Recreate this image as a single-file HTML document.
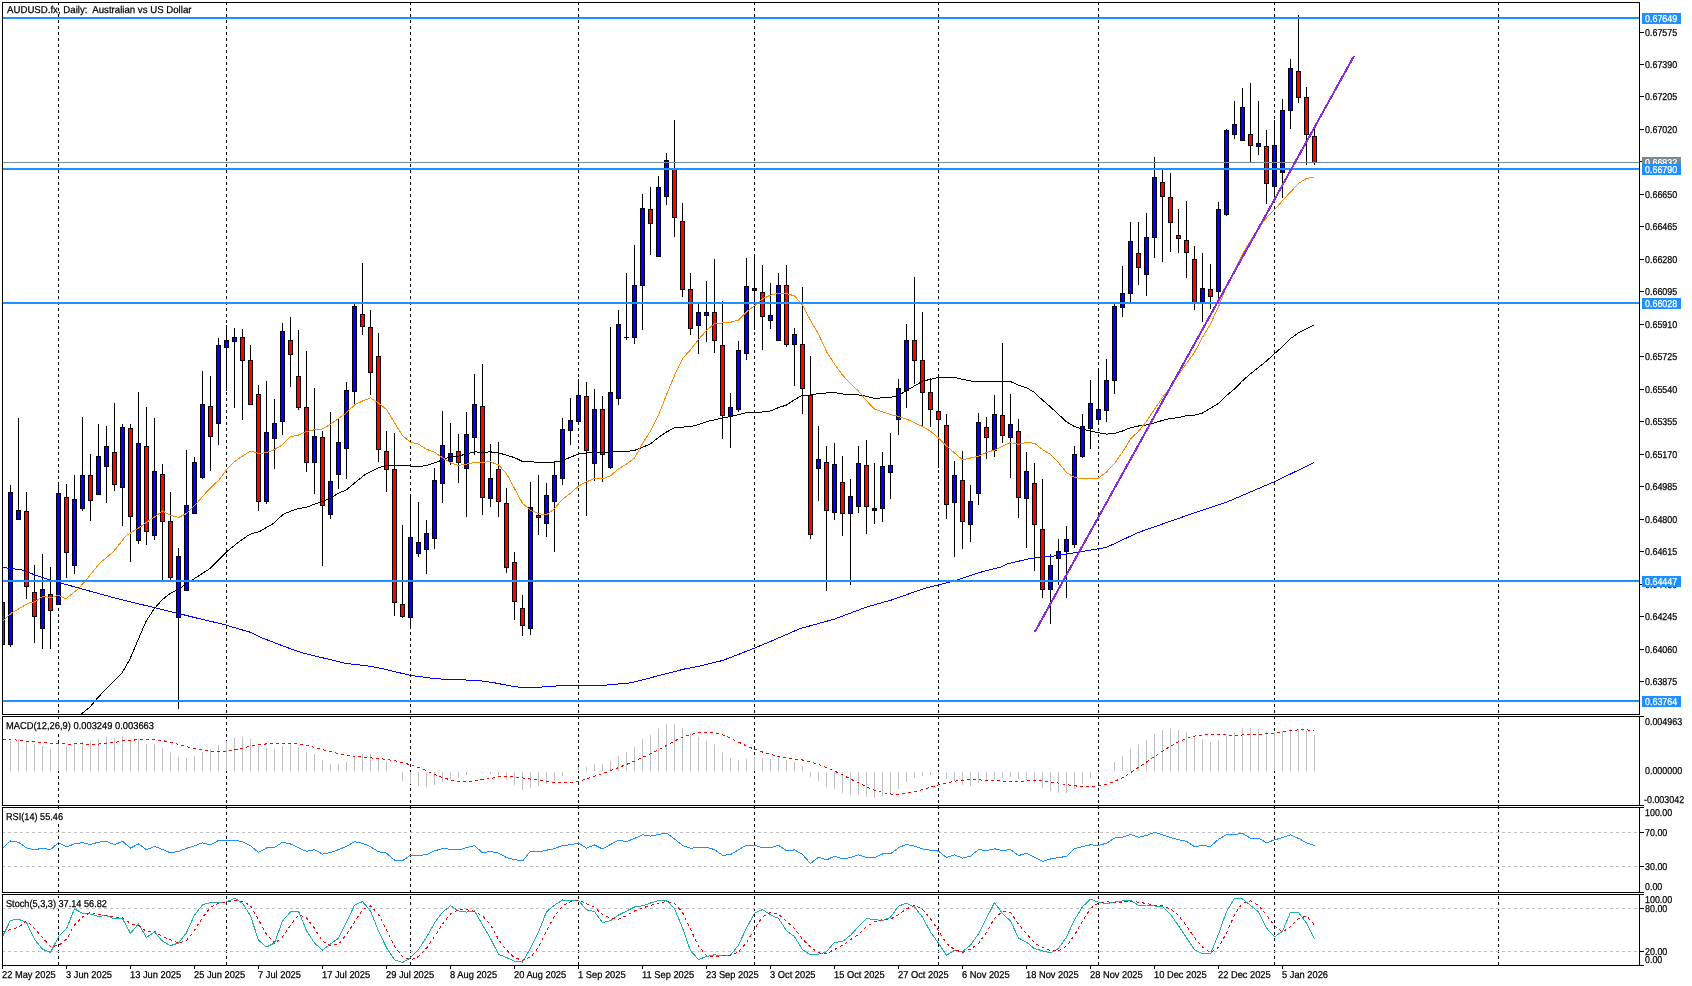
<!DOCTYPE html>
<html><head><meta charset="utf-8"><title>AUDUSD.fx Daily</title>
<style>html,body{margin:0;padding:0;background:#fff;width:1692px;height:986px;overflow:hidden}svg{display:block;will-change:transform}text{font-family:"Liberation Sans",sans-serif;white-space:pre;text-rendering:geometricPrecision}</style>
</head><body><svg width="1692" height="986" viewBox="0 0 1692 986" shape-rendering="crispEdges" font-family="Liberation Sans, sans-serif"><defs><clipPath id="c0"><rect x="3" y="3" width="1636" height="711"/></clipPath><clipPath id="c1"><rect x="3" y="717" width="1636" height="88"/></clipPath><clipPath id="c2"><rect x="3" y="808" width="1636" height="84"/></clipPath><clipPath id="c3"><rect x="3" y="895" width="1636" height="70"/></clipPath></defs><line x1="58.5" y1="2" x2="58.5" y2="966" stroke="#000" stroke-width="1" stroke-dasharray="3 3"/><line x1="226.5" y1="2" x2="226.5" y2="966" stroke="#000" stroke-width="1" stroke-dasharray="3 3"/><line x1="410.5" y1="2" x2="410.5" y2="966" stroke="#000" stroke-width="1" stroke-dasharray="3 3"/><line x1="578.5" y1="2" x2="578.5" y2="966" stroke="#000" stroke-width="1" stroke-dasharray="3 3"/><line x1="754.5" y1="2" x2="754.5" y2="966" stroke="#000" stroke-width="1" stroke-dasharray="3 3"/><line x1="938.5" y1="2" x2="938.5" y2="966" stroke="#000" stroke-width="1" stroke-dasharray="3 3"/><line x1="1098.5" y1="2" x2="1098.5" y2="966" stroke="#000" stroke-width="1" stroke-dasharray="3 3"/><line x1="1274.5" y1="2" x2="1274.5" y2="966" stroke="#000" stroke-width="1" stroke-dasharray="3 3"/><line x1="1498.5" y1="2" x2="1498.5" y2="966" stroke="#000" stroke-width="1" stroke-dasharray="3 3"/><rect x="3" y="720" width="153" height="11" fill="#fff"/><rect x="3" y="811" width="62" height="11" fill="#fff"/><rect x="3" y="898" width="106" height="11" fill="#fff"/><g clip-path="url(#c0)"><rect x="2" y="595" width="1" height="52" fill="#000"/><rect x="0" y="602" width="5" height="43" fill="#000"/><rect x="1" y="603" width="3" height="41" fill="#ff0000"/><rect x="10" y="485" width="1" height="162" fill="#000"/><rect x="8" y="492" width="5" height="153" fill="#000"/><rect x="9" y="493" width="3" height="151" fill="#0000ff"/><rect x="18" y="418" width="1" height="102" fill="#000"/><rect x="16" y="510" width="5" height="10" fill="#000"/><rect x="17" y="511" width="3" height="8" fill="#0000ff"/><rect x="26" y="492" width="1" height="107" fill="#000"/><rect x="24" y="511" width="5" height="76" fill="#000"/><rect x="25" y="512" width="3" height="74" fill="#ff0000"/><rect x="34" y="565" width="1" height="78" fill="#000"/><rect x="32" y="592" width="5" height="25" fill="#000"/><rect x="33" y="593" width="3" height="23" fill="#ff0000"/><rect x="42" y="554" width="1" height="95" fill="#000"/><rect x="40" y="589" width="5" height="40" fill="#000"/><rect x="41" y="590" width="3" height="38" fill="#0000ff"/><rect x="50" y="567" width="1" height="82" fill="#000"/><rect x="48" y="594" width="5" height="17" fill="#000"/><rect x="49" y="595" width="3" height="15" fill="#ff0000"/><rect x="58" y="482" width="1" height="123" fill="#000"/><rect x="56" y="493" width="5" height="112" fill="#000"/><rect x="57" y="494" width="3" height="110" fill="#0000ff"/><rect x="66" y="484" width="1" height="94" fill="#000"/><rect x="64" y="497" width="5" height="56" fill="#000"/><rect x="65" y="498" width="3" height="54" fill="#ff0000"/><rect x="74" y="475" width="1" height="99" fill="#000"/><rect x="72" y="499" width="5" height="67" fill="#000"/><rect x="73" y="500" width="3" height="65" fill="#0000ff"/><rect x="82" y="417" width="1" height="94" fill="#000"/><rect x="80" y="475" width="5" height="34" fill="#000"/><rect x="81" y="476" width="3" height="32" fill="#0000ff"/><rect x="90" y="454" width="1" height="67" fill="#000"/><rect x="88" y="475" width="5" height="26" fill="#000"/><rect x="89" y="476" width="3" height="24" fill="#ff0000"/><rect x="98" y="424" width="1" height="71" fill="#000"/><rect x="96" y="456" width="5" height="39" fill="#000"/><rect x="97" y="457" width="3" height="37" fill="#0000ff"/><rect x="106" y="426" width="1" height="77" fill="#000"/><rect x="104" y="446" width="5" height="21" fill="#000"/><rect x="105" y="447" width="3" height="19" fill="#0000ff"/><rect x="114" y="403" width="1" height="88" fill="#000"/><rect x="112" y="452" width="5" height="33" fill="#000"/><rect x="113" y="453" width="3" height="31" fill="#ff0000"/><rect x="122" y="424" width="1" height="102" fill="#000"/><rect x="120" y="427" width="5" height="61" fill="#000"/><rect x="121" y="428" width="3" height="59" fill="#0000ff"/><rect x="130" y="424" width="1" height="138" fill="#000"/><rect x="128" y="428" width="5" height="89" fill="#000"/><rect x="129" y="429" width="3" height="87" fill="#ff0000"/><rect x="138" y="392" width="1" height="152" fill="#000"/><rect x="136" y="443" width="5" height="98" fill="#000"/><rect x="137" y="444" width="3" height="96" fill="#0000ff"/><rect x="146" y="407" width="1" height="138" fill="#000"/><rect x="144" y="446" width="5" height="86" fill="#000"/><rect x="145" y="447" width="3" height="84" fill="#ff0000"/><rect x="154" y="418" width="1" height="122" fill="#000"/><rect x="152" y="471" width="5" height="65" fill="#000"/><rect x="153" y="472" width="3" height="63" fill="#0000ff"/><rect x="162" y="464" width="1" height="117" fill="#000"/><rect x="160" y="474" width="5" height="48" fill="#000"/><rect x="161" y="475" width="3" height="46" fill="#ff0000"/><rect x="170" y="492" width="1" height="89" fill="#000"/><rect x="168" y="521" width="5" height="57" fill="#000"/><rect x="169" y="522" width="3" height="55" fill="#ff0000"/><rect x="178" y="548" width="1" height="161" fill="#000"/><rect x="176" y="556" width="5" height="62" fill="#000"/><rect x="177" y="557" width="3" height="60" fill="#0000ff"/><rect x="186" y="450" width="1" height="141" fill="#000"/><rect x="184" y="505" width="5" height="86" fill="#000"/><rect x="185" y="506" width="3" height="84" fill="#0000ff"/><rect x="194" y="457" width="1" height="57" fill="#000"/><rect x="192" y="462" width="5" height="52" fill="#000"/><rect x="193" y="463" width="3" height="50" fill="#0000ff"/><rect x="202" y="371" width="1" height="108" fill="#000"/><rect x="200" y="404" width="5" height="74" fill="#000"/><rect x="201" y="405" width="3" height="72" fill="#0000ff"/><rect x="210" y="376" width="1" height="95" fill="#000"/><rect x="208" y="406" width="5" height="31" fill="#000"/><rect x="209" y="407" width="3" height="29" fill="#ff0000"/><rect x="218" y="338" width="1" height="107" fill="#000"/><rect x="216" y="345" width="5" height="79" fill="#000"/><rect x="217" y="346" width="3" height="77" fill="#0000ff"/><rect x="226" y="325" width="1" height="66" fill="#000"/><rect x="224" y="340" width="5" height="8" fill="#000"/><rect x="225" y="341" width="3" height="6" fill="#0000ff"/><rect x="234" y="328" width="1" height="80" fill="#000"/><rect x="232" y="337" width="5" height="5" fill="#000"/><rect x="233" y="338" width="3" height="3" fill="#0000ff"/><rect x="242" y="329" width="1" height="91" fill="#000"/><rect x="240" y="337" width="5" height="24" fill="#000"/><rect x="241" y="338" width="3" height="22" fill="#ff0000"/><rect x="250" y="345" width="1" height="60" fill="#000"/><rect x="248" y="360" width="5" height="45" fill="#000"/><rect x="249" y="361" width="3" height="43" fill="#ff0000"/><rect x="258" y="385" width="1" height="126" fill="#000"/><rect x="256" y="394" width="5" height="108" fill="#000"/><rect x="257" y="395" width="3" height="106" fill="#ff0000"/><rect x="266" y="381" width="1" height="123" fill="#000"/><rect x="264" y="432" width="5" height="70" fill="#000"/><rect x="265" y="433" width="3" height="68" fill="#0000ff"/><rect x="274" y="399" width="1" height="70" fill="#000"/><rect x="272" y="423" width="5" height="16" fill="#000"/><rect x="273" y="424" width="3" height="14" fill="#0000ff"/><rect x="282" y="323" width="1" height="112" fill="#000"/><rect x="280" y="331" width="5" height="91" fill="#000"/><rect x="281" y="332" width="3" height="89" fill="#0000ff"/><rect x="290" y="317" width="1" height="70" fill="#000"/><rect x="288" y="340" width="5" height="15" fill="#000"/><rect x="289" y="341" width="3" height="13" fill="#ff0000"/><rect x="298" y="330" width="1" height="80" fill="#000"/><rect x="296" y="376" width="5" height="32" fill="#000"/><rect x="297" y="377" width="3" height="30" fill="#ff0000"/><rect x="306" y="351" width="1" height="121" fill="#000"/><rect x="304" y="407" width="5" height="56" fill="#000"/><rect x="305" y="408" width="3" height="54" fill="#ff0000"/><rect x="314" y="388" width="1" height="106" fill="#000"/><rect x="312" y="436" width="5" height="27" fill="#000"/><rect x="313" y="437" width="3" height="25" fill="#0000ff"/><rect x="322" y="431" width="1" height="135" fill="#000"/><rect x="320" y="437" width="5" height="69" fill="#000"/><rect x="321" y="438" width="3" height="67" fill="#ff0000"/><rect x="330" y="412" width="1" height="107" fill="#000"/><rect x="328" y="481" width="5" height="34" fill="#000"/><rect x="329" y="482" width="3" height="32" fill="#0000ff"/><rect x="338" y="419" width="1" height="70" fill="#000"/><rect x="336" y="442" width="5" height="33" fill="#000"/><rect x="337" y="443" width="3" height="31" fill="#0000ff"/><rect x="346" y="382" width="1" height="97" fill="#000"/><rect x="344" y="390" width="5" height="59" fill="#000"/><rect x="345" y="391" width="3" height="57" fill="#0000ff"/><rect x="354" y="304" width="1" height="101" fill="#000"/><rect x="352" y="306" width="5" height="86" fill="#000"/><rect x="353" y="307" width="3" height="84" fill="#0000ff"/><rect x="362" y="263" width="1" height="72" fill="#000"/><rect x="360" y="314" width="5" height="13" fill="#000"/><rect x="361" y="315" width="3" height="11" fill="#ff0000"/><rect x="370" y="310" width="1" height="85" fill="#000"/><rect x="368" y="327" width="5" height="46" fill="#000"/><rect x="369" y="328" width="3" height="44" fill="#ff0000"/><rect x="378" y="333" width="1" height="129" fill="#000"/><rect x="376" y="356" width="5" height="94" fill="#000"/><rect x="377" y="357" width="3" height="92" fill="#ff0000"/><rect x="386" y="431" width="1" height="61" fill="#000"/><rect x="384" y="451" width="5" height="19" fill="#000"/><rect x="385" y="452" width="3" height="17" fill="#ff0000"/><rect x="394" y="433" width="1" height="183" fill="#000"/><rect x="392" y="469" width="5" height="134" fill="#000"/><rect x="393" y="470" width="3" height="132" fill="#ff0000"/><rect x="402" y="525" width="1" height="93" fill="#000"/><rect x="400" y="604" width="5" height="13" fill="#000"/><rect x="401" y="605" width="3" height="11" fill="#ff0000"/><rect x="410" y="494" width="1" height="135" fill="#000"/><rect x="408" y="537" width="5" height="81" fill="#000"/><rect x="409" y="538" width="3" height="79" fill="#0000ff"/><rect x="418" y="502" width="1" height="55" fill="#000"/><rect x="416" y="542" width="5" height="12" fill="#000"/><rect x="417" y="543" width="3" height="10" fill="#0000ff"/><rect x="426" y="520" width="1" height="54" fill="#000"/><rect x="424" y="533" width="5" height="17" fill="#000"/><rect x="425" y="534" width="3" height="15" fill="#0000ff"/><rect x="434" y="468" width="1" height="81" fill="#000"/><rect x="432" y="480" width="5" height="59" fill="#000"/><rect x="433" y="481" width="3" height="57" fill="#0000ff"/><rect x="442" y="411" width="1" height="92" fill="#000"/><rect x="440" y="445" width="5" height="39" fill="#000"/><rect x="441" y="446" width="3" height="37" fill="#0000ff"/><rect x="450" y="423" width="1" height="42" fill="#000"/><rect x="448" y="453" width="5" height="9" fill="#000"/><rect x="449" y="454" width="3" height="7" fill="#0000ff"/><rect x="458" y="434" width="1" height="49" fill="#000"/><rect x="456" y="451" width="5" height="12" fill="#000"/><rect x="457" y="452" width="3" height="10" fill="#ff0000"/><rect x="466" y="412" width="1" height="105" fill="#000"/><rect x="464" y="434" width="5" height="35" fill="#000"/><rect x="465" y="435" width="3" height="33" fill="#0000ff"/><rect x="474" y="374" width="1" height="81" fill="#000"/><rect x="472" y="404" width="5" height="34" fill="#000"/><rect x="473" y="405" width="3" height="32" fill="#0000ff"/><rect x="482" y="364" width="1" height="151" fill="#000"/><rect x="480" y="406" width="5" height="92" fill="#000"/><rect x="481" y="407" width="3" height="90" fill="#ff0000"/><rect x="490" y="444" width="1" height="63" fill="#000"/><rect x="488" y="478" width="5" height="21" fill="#000"/><rect x="489" y="479" width="3" height="19" fill="#0000ff"/><rect x="498" y="442" width="1" height="75" fill="#000"/><rect x="496" y="469" width="5" height="33" fill="#000"/><rect x="497" y="470" width="3" height="31" fill="#ff0000"/><rect x="506" y="488" width="1" height="85" fill="#000"/><rect x="504" y="503" width="5" height="65" fill="#000"/><rect x="505" y="504" width="3" height="63" fill="#ff0000"/><rect x="514" y="552" width="1" height="68" fill="#000"/><rect x="512" y="562" width="5" height="40" fill="#000"/><rect x="513" y="563" width="3" height="38" fill="#ff0000"/><rect x="522" y="595" width="1" height="41" fill="#000"/><rect x="520" y="608" width="5" height="18" fill="#000"/><rect x="521" y="609" width="3" height="16" fill="#ff0000"/><rect x="530" y="482" width="1" height="153" fill="#000"/><rect x="528" y="507" width="5" height="122" fill="#000"/><rect x="529" y="508" width="3" height="120" fill="#0000ff"/><rect x="538" y="475" width="1" height="60" fill="#000"/><rect x="536" y="515" width="5" height="3" fill="#000"/><rect x="537" y="516" width="3" height="1" fill="#ff0000"/><rect x="546" y="483" width="1" height="54" fill="#000"/><rect x="544" y="495" width="5" height="29" fill="#000"/><rect x="545" y="496" width="3" height="27" fill="#0000ff"/><rect x="554" y="461" width="1" height="91" fill="#000"/><rect x="552" y="475" width="5" height="27" fill="#000"/><rect x="553" y="476" width="3" height="25" fill="#0000ff"/><rect x="562" y="418" width="1" height="67" fill="#000"/><rect x="560" y="429" width="5" height="50" fill="#000"/><rect x="561" y="430" width="3" height="48" fill="#0000ff"/><rect x="570" y="398" width="1" height="47" fill="#000"/><rect x="568" y="420" width="5" height="11" fill="#000"/><rect x="569" y="421" width="3" height="9" fill="#0000ff"/><rect x="578" y="379" width="1" height="46" fill="#000"/><rect x="576" y="395" width="5" height="27" fill="#000"/><rect x="577" y="396" width="3" height="25" fill="#0000ff"/><rect x="586" y="382" width="1" height="134" fill="#000"/><rect x="584" y="396" width="5" height="55" fill="#000"/><rect x="585" y="397" width="3" height="53" fill="#ff0000"/><rect x="594" y="389" width="1" height="92" fill="#000"/><rect x="592" y="409" width="5" height="55" fill="#000"/><rect x="593" y="410" width="3" height="53" fill="#0000ff"/><rect x="602" y="396" width="1" height="86" fill="#000"/><rect x="600" y="409" width="5" height="46" fill="#000"/><rect x="601" y="410" width="3" height="44" fill="#ff0000"/><rect x="610" y="327" width="1" height="142" fill="#000"/><rect x="608" y="392" width="5" height="76" fill="#000"/><rect x="609" y="393" width="3" height="74" fill="#0000ff"/><rect x="618" y="310" width="1" height="95" fill="#000"/><rect x="616" y="324" width="5" height="75" fill="#000"/><rect x="617" y="325" width="3" height="73" fill="#0000ff"/><rect x="626" y="273" width="1" height="67" fill="#000"/><rect x="624" y="337" width="5" height="1" fill="#000"/><rect x="624" y="337" width="5" height="1" fill="#000"/><rect x="634" y="245" width="1" height="99" fill="#000"/><rect x="632" y="285" width="5" height="53" fill="#000"/><rect x="633" y="286" width="3" height="51" fill="#0000ff"/><rect x="642" y="194" width="1" height="136" fill="#000"/><rect x="640" y="208" width="5" height="78" fill="#000"/><rect x="641" y="209" width="3" height="76" fill="#0000ff"/><rect x="650" y="187" width="1" height="68" fill="#000"/><rect x="648" y="209" width="5" height="15" fill="#000"/><rect x="649" y="210" width="3" height="13" fill="#ff0000"/><rect x="658" y="176" width="1" height="81" fill="#000"/><rect x="656" y="187" width="5" height="70" fill="#000"/><rect x="657" y="188" width="3" height="68" fill="#0000ff"/><rect x="666" y="153" width="1" height="52" fill="#000"/><rect x="664" y="160" width="5" height="37" fill="#000"/><rect x="665" y="161" width="3" height="35" fill="#0000ff"/><rect x="674" y="120" width="1" height="117" fill="#000"/><rect x="672" y="168" width="5" height="50" fill="#000"/><rect x="673" y="169" width="3" height="48" fill="#ff0000"/><rect x="682" y="203" width="1" height="94" fill="#000"/><rect x="680" y="221" width="5" height="69" fill="#000"/><rect x="681" y="222" width="3" height="67" fill="#ff0000"/><rect x="690" y="273" width="1" height="62" fill="#000"/><rect x="688" y="289" width="5" height="40" fill="#000"/><rect x="689" y="290" width="3" height="38" fill="#ff0000"/><rect x="698" y="304" width="1" height="50" fill="#000"/><rect x="696" y="312" width="5" height="14" fill="#000"/><rect x="697" y="313" width="3" height="12" fill="#0000ff"/><rect x="706" y="281" width="1" height="61" fill="#000"/><rect x="704" y="312" width="5" height="4" fill="#000"/><rect x="705" y="313" width="3" height="2" fill="#0000ff"/><rect x="714" y="259" width="1" height="94" fill="#000"/><rect x="712" y="312" width="5" height="29" fill="#000"/><rect x="713" y="313" width="3" height="27" fill="#ff0000"/><rect x="722" y="301" width="1" height="138" fill="#000"/><rect x="720" y="345" width="5" height="71" fill="#000"/><rect x="721" y="346" width="3" height="69" fill="#ff0000"/><rect x="730" y="393" width="1" height="55" fill="#000"/><rect x="728" y="407" width="5" height="10" fill="#000"/><rect x="729" y="408" width="3" height="8" fill="#0000ff"/><rect x="738" y="341" width="1" height="71" fill="#000"/><rect x="736" y="350" width="5" height="60" fill="#000"/><rect x="737" y="351" width="3" height="58" fill="#0000ff"/><rect x="746" y="258" width="1" height="102" fill="#000"/><rect x="744" y="286" width="5" height="68" fill="#000"/><rect x="745" y="287" width="3" height="66" fill="#0000ff"/><rect x="754" y="254" width="1" height="76" fill="#000"/><rect x="752" y="288" width="5" height="3" fill="#000"/><rect x="753" y="289" width="3" height="1" fill="#0000ff"/><rect x="762" y="265" width="1" height="85" fill="#000"/><rect x="760" y="292" width="5" height="25" fill="#000"/><rect x="761" y="293" width="3" height="23" fill="#ff0000"/><rect x="770" y="283" width="1" height="46" fill="#000"/><rect x="768" y="315" width="5" height="6" fill="#000"/><rect x="769" y="316" width="3" height="4" fill="#0000ff"/><rect x="778" y="273" width="1" height="68" fill="#000"/><rect x="776" y="285" width="5" height="56" fill="#000"/><rect x="777" y="286" width="3" height="54" fill="#0000ff"/><rect x="786" y="265" width="1" height="82" fill="#000"/><rect x="784" y="285" width="5" height="60" fill="#000"/><rect x="785" y="286" width="3" height="58" fill="#ff0000"/><rect x="794" y="328" width="1" height="58" fill="#000"/><rect x="792" y="334" width="5" height="11" fill="#000"/><rect x="793" y="335" width="3" height="9" fill="#0000ff"/><rect x="802" y="287" width="1" height="127" fill="#000"/><rect x="800" y="344" width="5" height="45" fill="#000"/><rect x="801" y="345" width="3" height="43" fill="#ff0000"/><rect x="810" y="356" width="1" height="183" fill="#000"/><rect x="808" y="395" width="5" height="140" fill="#000"/><rect x="809" y="396" width="3" height="138" fill="#ff0000"/><rect x="818" y="426" width="1" height="75" fill="#000"/><rect x="816" y="459" width="5" height="10" fill="#000"/><rect x="817" y="460" width="3" height="8" fill="#0000ff"/><rect x="826" y="446" width="1" height="145" fill="#000"/><rect x="824" y="462" width="5" height="49" fill="#000"/><rect x="825" y="463" width="3" height="47" fill="#ff0000"/><rect x="834" y="443" width="1" height="77" fill="#000"/><rect x="832" y="464" width="5" height="49" fill="#000"/><rect x="833" y="465" width="3" height="47" fill="#0000ff"/><rect x="842" y="456" width="1" height="80" fill="#000"/><rect x="840" y="482" width="5" height="32" fill="#000"/><rect x="841" y="483" width="3" height="30" fill="#ff0000"/><rect x="850" y="479" width="1" height="106" fill="#000"/><rect x="848" y="496" width="5" height="18" fill="#000"/><rect x="849" y="497" width="3" height="16" fill="#0000ff"/><rect x="858" y="446" width="1" height="67" fill="#000"/><rect x="856" y="463" width="5" height="44" fill="#000"/><rect x="857" y="464" width="3" height="42" fill="#0000ff"/><rect x="866" y="440" width="1" height="94" fill="#000"/><rect x="864" y="465" width="5" height="42" fill="#000"/><rect x="865" y="466" width="3" height="40" fill="#ff0000"/><rect x="874" y="463" width="1" height="61" fill="#000"/><rect x="872" y="508" width="5" height="3" fill="#000"/><rect x="873" y="509" width="3" height="1" fill="#0000ff"/><rect x="882" y="452" width="1" height="70" fill="#000"/><rect x="880" y="466" width="5" height="43" fill="#000"/><rect x="881" y="467" width="3" height="41" fill="#0000ff"/><rect x="890" y="433" width="1" height="66" fill="#000"/><rect x="888" y="465" width="5" height="8" fill="#000"/><rect x="889" y="466" width="3" height="6" fill="#0000ff"/><rect x="898" y="379" width="1" height="56" fill="#000"/><rect x="896" y="388" width="5" height="32" fill="#000"/><rect x="897" y="389" width="3" height="30" fill="#0000ff"/><rect x="906" y="324" width="1" height="84" fill="#000"/><rect x="904" y="340" width="5" height="51" fill="#000"/><rect x="905" y="341" width="3" height="49" fill="#0000ff"/><rect x="914" y="277" width="1" height="107" fill="#000"/><rect x="912" y="340" width="5" height="21" fill="#000"/><rect x="913" y="341" width="3" height="19" fill="#ff0000"/><rect x="922" y="312" width="1" height="114" fill="#000"/><rect x="920" y="360" width="5" height="33" fill="#000"/><rect x="921" y="361" width="3" height="31" fill="#ff0000"/><rect x="930" y="378" width="1" height="49" fill="#000"/><rect x="928" y="392" width="5" height="18" fill="#000"/><rect x="929" y="393" width="3" height="16" fill="#ff0000"/><rect x="938" y="376" width="1" height="92" fill="#000"/><rect x="936" y="411" width="5" height="9" fill="#000"/><rect x="937" y="412" width="3" height="7" fill="#ff0000"/><rect x="946" y="414" width="1" height="105" fill="#000"/><rect x="944" y="425" width="5" height="80" fill="#000"/><rect x="945" y="426" width="3" height="78" fill="#ff0000"/><rect x="954" y="461" width="1" height="96" fill="#000"/><rect x="952" y="475" width="5" height="28" fill="#000"/><rect x="953" y="476" width="3" height="26" fill="#0000ff"/><rect x="962" y="451" width="1" height="98" fill="#000"/><rect x="960" y="480" width="5" height="42" fill="#000"/><rect x="961" y="481" width="3" height="40" fill="#ff0000"/><rect x="970" y="485" width="1" height="57" fill="#000"/><rect x="968" y="501" width="5" height="24" fill="#000"/><rect x="969" y="502" width="3" height="22" fill="#0000ff"/><rect x="978" y="413" width="1" height="92" fill="#000"/><rect x="976" y="422" width="5" height="72" fill="#000"/><rect x="977" y="423" width="3" height="70" fill="#0000ff"/><rect x="986" y="417" width="1" height="42" fill="#000"/><rect x="984" y="427" width="5" height="11" fill="#000"/><rect x="985" y="428" width="3" height="9" fill="#ff0000"/><rect x="994" y="395" width="1" height="62" fill="#000"/><rect x="992" y="414" width="5" height="37" fill="#000"/><rect x="993" y="415" width="3" height="35" fill="#0000ff"/><rect x="1002" y="343" width="1" height="100" fill="#000"/><rect x="1000" y="415" width="5" height="21" fill="#000"/><rect x="1001" y="416" width="3" height="19" fill="#ff0000"/><rect x="1010" y="394" width="1" height="84" fill="#000"/><rect x="1008" y="424" width="5" height="14" fill="#000"/><rect x="1009" y="425" width="3" height="12" fill="#0000ff"/><rect x="1018" y="419" width="1" height="99" fill="#000"/><rect x="1016" y="431" width="5" height="67" fill="#000"/><rect x="1017" y="432" width="3" height="65" fill="#ff0000"/><rect x="1026" y="452" width="1" height="96" fill="#000"/><rect x="1024" y="471" width="5" height="28" fill="#000"/><rect x="1025" y="472" width="3" height="26" fill="#0000ff"/><rect x="1034" y="463" width="1" height="108" fill="#000"/><rect x="1032" y="483" width="5" height="42" fill="#000"/><rect x="1033" y="484" width="3" height="40" fill="#ff0000"/><rect x="1042" y="479" width="1" height="119" fill="#000"/><rect x="1040" y="529" width="5" height="61" fill="#000"/><rect x="1041" y="530" width="3" height="59" fill="#ff0000"/><rect x="1050" y="554" width="1" height="70" fill="#000"/><rect x="1048" y="565" width="5" height="25" fill="#000"/><rect x="1049" y="566" width="3" height="23" fill="#0000ff"/><rect x="1058" y="539" width="1" height="46" fill="#000"/><rect x="1056" y="551" width="5" height="8" fill="#000"/><rect x="1057" y="552" width="3" height="6" fill="#0000ff"/><rect x="1066" y="526" width="1" height="72" fill="#000"/><rect x="1064" y="539" width="5" height="13" fill="#000"/><rect x="1065" y="540" width="3" height="11" fill="#0000ff"/><rect x="1074" y="446" width="1" height="102" fill="#000"/><rect x="1072" y="454" width="5" height="91" fill="#000"/><rect x="1073" y="455" width="3" height="89" fill="#0000ff"/><rect x="1082" y="414" width="1" height="44" fill="#000"/><rect x="1080" y="426" width="5" height="31" fill="#000"/><rect x="1081" y="427" width="3" height="29" fill="#0000ff"/><rect x="1090" y="380" width="1" height="69" fill="#000"/><rect x="1088" y="403" width="5" height="26" fill="#000"/><rect x="1089" y="404" width="3" height="24" fill="#0000ff"/><rect x="1098" y="368" width="1" height="57" fill="#000"/><rect x="1096" y="409" width="5" height="11" fill="#000"/><rect x="1097" y="410" width="3" height="9" fill="#0000ff"/><rect x="1106" y="359" width="1" height="63" fill="#000"/><rect x="1104" y="380" width="5" height="31" fill="#000"/><rect x="1105" y="381" width="3" height="29" fill="#0000ff"/><rect x="1114" y="304" width="1" height="90" fill="#000"/><rect x="1112" y="306" width="5" height="75" fill="#000"/><rect x="1113" y="307" width="3" height="73" fill="#0000ff"/><rect x="1122" y="266" width="1" height="51" fill="#000"/><rect x="1120" y="293" width="5" height="15" fill="#000"/><rect x="1121" y="294" width="3" height="13" fill="#0000ff"/><rect x="1130" y="222" width="1" height="80" fill="#000"/><rect x="1128" y="241" width="5" height="53" fill="#000"/><rect x="1129" y="242" width="3" height="51" fill="#0000ff"/><rect x="1138" y="222" width="1" height="63" fill="#000"/><rect x="1136" y="253" width="5" height="15" fill="#000"/><rect x="1137" y="254" width="3" height="13" fill="#ff0000"/><rect x="1146" y="213" width="1" height="83" fill="#000"/><rect x="1144" y="237" width="5" height="38" fill="#000"/><rect x="1145" y="238" width="3" height="36" fill="#0000ff"/><rect x="1154" y="157" width="1" height="101" fill="#000"/><rect x="1152" y="177" width="5" height="61" fill="#000"/><rect x="1153" y="178" width="3" height="59" fill="#0000ff"/><rect x="1162" y="170" width="1" height="92" fill="#000"/><rect x="1160" y="182" width="5" height="15" fill="#000"/><rect x="1161" y="183" width="3" height="13" fill="#ff0000"/><rect x="1170" y="173" width="1" height="79" fill="#000"/><rect x="1168" y="197" width="5" height="26" fill="#000"/><rect x="1169" y="198" width="3" height="24" fill="#ff0000"/><rect x="1178" y="209" width="1" height="44" fill="#000"/><rect x="1176" y="235" width="5" height="4" fill="#000"/><rect x="1177" y="236" width="3" height="2" fill="#ff0000"/><rect x="1186" y="201" width="1" height="77" fill="#000"/><rect x="1184" y="240" width="5" height="13" fill="#000"/><rect x="1185" y="241" width="3" height="11" fill="#ff0000"/><rect x="1194" y="246" width="1" height="64" fill="#000"/><rect x="1192" y="259" width="5" height="44" fill="#000"/><rect x="1193" y="260" width="3" height="42" fill="#ff0000"/><rect x="1202" y="253" width="1" height="69" fill="#000"/><rect x="1200" y="288" width="5" height="15" fill="#000"/><rect x="1201" y="289" width="3" height="13" fill="#0000ff"/><rect x="1210" y="264" width="1" height="45" fill="#000"/><rect x="1208" y="289" width="5" height="8" fill="#000"/><rect x="1209" y="290" width="3" height="6" fill="#ff0000"/><rect x="1218" y="202" width="1" height="97" fill="#000"/><rect x="1216" y="209" width="5" height="83" fill="#000"/><rect x="1217" y="210" width="3" height="81" fill="#0000ff"/><rect x="1226" y="129" width="1" height="87" fill="#000"/><rect x="1224" y="130" width="5" height="85" fill="#000"/><rect x="1225" y="131" width="3" height="83" fill="#0000ff"/><rect x="1234" y="101" width="1" height="38" fill="#000"/><rect x="1232" y="124" width="5" height="11" fill="#000"/><rect x="1233" y="125" width="3" height="9" fill="#0000ff"/><rect x="1242" y="88" width="1" height="53" fill="#000"/><rect x="1240" y="107" width="5" height="34" fill="#000"/><rect x="1241" y="108" width="3" height="32" fill="#0000ff"/><rect x="1250" y="83" width="1" height="80" fill="#000"/><rect x="1248" y="134" width="5" height="12" fill="#000"/><rect x="1249" y="135" width="3" height="10" fill="#ff0000"/><rect x="1258" y="101" width="1" height="54" fill="#000"/><rect x="1256" y="143" width="5" height="4" fill="#000"/><rect x="1257" y="144" width="3" height="2" fill="#0000ff"/><rect x="1266" y="130" width="1" height="74" fill="#000"/><rect x="1264" y="146" width="5" height="38" fill="#000"/><rect x="1265" y="147" width="3" height="36" fill="#ff0000"/><rect x="1274" y="120" width="1" height="77" fill="#000"/><rect x="1272" y="145" width="5" height="42" fill="#000"/><rect x="1273" y="146" width="3" height="40" fill="#0000ff"/><rect x="1282" y="99" width="1" height="99" fill="#000"/><rect x="1280" y="110" width="5" height="63" fill="#000"/><rect x="1281" y="111" width="3" height="61" fill="#0000ff"/><rect x="1290" y="59" width="1" height="70" fill="#000"/><rect x="1288" y="68" width="5" height="43" fill="#000"/><rect x="1289" y="69" width="3" height="41" fill="#0000ff"/><rect x="1298" y="15" width="1" height="88" fill="#000"/><rect x="1296" y="71" width="5" height="27" fill="#000"/><rect x="1297" y="72" width="3" height="25" fill="#ff0000"/><rect x="1306" y="87" width="1" height="78" fill="#000"/><rect x="1304" y="97" width="5" height="38" fill="#000"/><rect x="1305" y="98" width="3" height="36" fill="#ff0000"/><rect x="1314" y="125" width="1" height="40" fill="#000"/><rect x="1312" y="136" width="5" height="27" fill="#000"/><rect x="1313" y="137" width="3" height="25" fill="#ff0000"/><polyline points="2.6,567.4 21.3,569.9 42.6,577.7 59.6,582.7 85.1,589.8 113.5,597.6 141.8,604.6 170.2,611.5 198.6,618.5 227.0,625.2 230.0,626.4 249.9,632.1 259.8,637.0 272.6,642.0 289.6,648.4 305.2,653.6 329.3,659.4 346.3,663.5 366.2,665.7 380.4,668.2 410.1,675.3 431.4,678.2 448.4,679.6 460.0,679.8 478.4,680.4 495.5,683.0 511.1,686.1 519.6,687.2 541.6,687.2 545.1,686.1 580.6,685.8 606.1,685.1 629.5,683.0 644.4,679.4 665.7,673.8 684.1,669.1 700.0,666.0 723.0,660.4 754.1,648.3 772.4,640.6 799.9,628.7 834.7,619.0 865.9,607.3 891.5,600.0 924.5,588.4 952.0,581.6 979.5,572.5 1000.0,567.3 1008.1,563.6 1031.5,558.3 1054.9,555.9 1080.0,551.8 1106.4,547.4 1138.0,532.6 1190.8,514.1 1227.7,501.7 1275.1,481.4 1313.9,462.7" fill="none" stroke="#0000ff" stroke-width="1" stroke-linejoin="round"/><polyline points="74.0,722.0 82.0,713.5 90.0,707.0 98.0,697.5 106.0,689.0 114.0,681.0 122.0,673.0 130.0,659.0 138.0,640.0 146.0,621.5 154.0,609.0 162.0,600.0 170.0,593.5 178.7,589.0 191.5,580.5 210.0,568.5 220.0,558.7 226.7,551.7 234.6,545.3 241.9,539.8 249.2,534.7 256.5,532.2 259.0,531.9 266.2,527.6 273.5,523.4 283.3,514.2 290.6,511.2 297.9,508.8 306.4,507.2 314.9,504.1 322.8,501.5 330.1,498.4 338.0,493.5 346.6,489.7 355.1,482.6 364.8,474.7 374.6,469.5 383.1,466.2 390.4,465.3 394.5,465.6 402.5,465.1 410.5,466.0 418.5,466.6 426.5,465.5 434.5,462.8 442.5,459.9 450.5,456.8 458.5,456.2 466.5,453.8 474.5,451.9 482.5,452.3 490.5,451.9 498.5,452.8 506.5,455.2 514.5,457.6 522.5,461.5 530.5,461.4 538.5,462.8 546.5,462.1 554.5,462.2 562.5,460.4 570.5,457.2 578.5,454.0 586.5,452.9 594.5,451.8 602.5,452.8 610.5,452.0 618.5,451.6 626.5,451.5 634.5,450.4 642.5,447.4 650.5,443.8 658.5,437.5 666.5,432.0 674.5,427.9 682.5,427.1 690.5,426.6 698.5,424.7 706.5,421.7 714.5,419.8 722.5,417.9 730.5,416.5 738.5,414.6 746.5,412.6 754.5,412.2 762.5,412.0 770.5,410.9 778.5,407.6 786.5,405.1 794.5,399.7 802.5,395.2 810.5,395.1 818.5,393.4 826.5,393.0 834.5,392.6 842.5,394.0 850.5,394.9 858.5,394.9 866.5,396.3 874.5,398.4 882.5,397.8 890.5,397.5 898.5,395.3 906.5,390.7 914.5,385.9 922.5,381.2 930.5,379.3 938.5,377.3 946.5,377.5 954.5,377.5 962.5,379.3 970.5,381.0 978.5,381.5 986.5,381.3 994.5,381.4 1002.5,381.0 1010.5,381.6 1018.5,385.1 1026.5,387.7 1034.5,392.5 1042.5,400.1 1050.5,407.0 1058.5,414.3 1066.5,421.9 1074.5,426.6 1082.5,429.3 1090.5,430.8 1098.5,432.8 1106.5,434.1 1114.5,433.4 1122.5,431.0 1130.5,427.7 1138.5,426.0 1146.5,425.0 1154.5,422.8 1162.5,420.4 1170.5,418.5 1178.5,417.6 1186.5,415.7 1194.5,415.1 1202.5,413.1 1210.5,408.3 1218.5,403.3 1226.5,395.7 1234.5,388.9 1242.5,380.8 1250.5,373.8 1258.5,367.4 1266.5,361.0 1274.5,353.7 1282.5,346.6 1290.5,338.6 1298.5,332.8 1306.5,328.7 1314.5,324.7" fill="none" stroke="#000000" stroke-width="1" stroke-linejoin="round"/><polyline points="2.6,621.0 11.3,613.2 28.4,603.2 34.8,601.8 42.6,596.4 51.1,597.6 58.2,595.4 66.0,598.7 78.0,589.0 86.5,579.8 99.3,563.5 112.8,552.4 126.2,535.6 139.6,527.3 151.3,518.9 154.5,517.1 162.5,511.0 170.5,515.2 178.5,517.5 186.5,513.5 194.5,505.8 202.5,496.5 210.5,487.8 218.5,480.4 226.5,469.8 234.5,461.7 242.5,455.9 250.5,451.1 258.5,453.4 266.5,452.7 274.5,449.6 282.5,444.8 290.5,436.8 298.5,435.0 306.5,431.5 314.5,429.8 322.5,429.0 330.5,424.2 338.5,418.5 346.5,412.7 354.5,404.9 362.5,401.0 370.5,397.9 378.5,403.1 386.5,409.5 394.5,422.7 402.5,435.6 410.5,442.2 418.5,444.2 426.5,449.3 434.5,452.1 442.5,457.8 450.5,462.7 458.5,465.5 466.5,464.1 474.5,462.5 482.5,462.1 490.5,461.9 498.5,464.9 506.5,473.7 514.5,488.5 522.5,503.4 530.5,510.2 538.5,513.6 546.5,514.9 554.5,508.6 562.5,499.2 570.5,493.4 578.5,486.0 586.5,481.9 594.5,478.3 602.5,478.8 610.5,475.8 618.5,468.8 626.5,464.0 634.5,458.0 642.5,443.6 650.5,430.9 658.5,415.1 666.5,394.7 674.5,375.5 682.5,358.7 690.5,349.8 698.5,339.5 706.5,330.4 714.5,323.6 722.5,323.0 730.5,322.3 738.5,320.1 746.5,311.9 754.5,305.8 762.5,298.9 770.5,295.1 778.5,293.1 786.5,293.5 794.5,295.9 802.5,304.9 810.5,320.5 818.5,334.1 826.5,351.6 834.5,364.0 842.5,375.1 850.5,383.5 858.5,391.1 866.5,400.7 874.5,409.1 882.5,411.7 890.5,414.6 898.5,416.4 906.5,419.1 914.5,422.7 922.5,426.5 930.5,431.2 938.5,438.0 946.5,445.9 954.5,453.0 962.5,459.7 970.5,458.0 978.5,456.2 986.5,452.5 994.5,450.1 1002.5,446.2 1010.5,442.6 1018.5,444.3 1026.5,442.5 1034.5,443.3 1042.5,449.5 1050.5,454.5 1058.5,462.6 1066.5,472.6 1074.5,477.3 1082.5,479.0 1090.5,478.7 1098.5,478.1 1106.5,471.9 1114.5,463.5 1122.5,452.1 1130.5,439.1 1138.5,431.3 1146.5,421.3 1154.5,409.4 1162.5,397.5 1170.5,387.4 1178.5,374.5 1186.5,363.5 1194.5,352.4 1202.5,337.3 1210.5,323.9 1218.5,306.8 1226.5,286.3 1234.5,269.8 1242.5,253.8 1250.5,240.9 1258.5,227.7 1266.5,217.8 1274.5,209.8 1282.5,200.6 1290.5,192.0 1298.5,183.5 1306.5,178.3 1314.5,177.5" fill="none" stroke="#ff8c00" stroke-width="1" stroke-linejoin="round"/><rect x="3" y="162" width="1636" height="1" fill="#778899"/><rect x="3" y="17" width="1636" height="2" fill="#1e90ff"/><rect x="3" y="168" width="1636" height="2" fill="#1e90ff"/><rect x="3" y="302" width="1636" height="2" fill="#1e90ff"/><rect x="3" y="580" width="1636" height="2" fill="#1e90ff"/><rect x="3" y="700" width="1636" height="2" fill="#1e90ff"/><line x1="1034.8" y1="632" x2="1354" y2="56" stroke="#8a2be2" stroke-width="2"/></g><g clip-path="url(#c1)"><rect x="2" y="746" width="1" height="25" fill="#c0c0c0"/><rect x="10" y="741" width="1" height="30" fill="#c0c0c0"/><rect x="18" y="739" width="1" height="32" fill="#c0c0c0"/><rect x="26" y="741" width="1" height="30" fill="#c0c0c0"/><rect x="34" y="744" width="1" height="27" fill="#c0c0c0"/><rect x="42" y="746" width="1" height="25" fill="#c0c0c0"/><rect x="50" y="749" width="1" height="22" fill="#c0c0c0"/><rect x="58" y="745" width="1" height="26" fill="#c0c0c0"/><rect x="66" y="746" width="1" height="25" fill="#c0c0c0"/><rect x="74" y="744" width="1" height="27" fill="#c0c0c0"/><rect x="82" y="742" width="1" height="29" fill="#c0c0c0"/><rect x="90" y="741" width="1" height="30" fill="#c0c0c0"/><rect x="98" y="739" width="1" height="32" fill="#c0c0c0"/><rect x="106" y="737" width="1" height="34" fill="#c0c0c0"/><rect x="114" y="738" width="1" height="33" fill="#c0c0c0"/><rect x="122" y="736" width="1" height="35" fill="#c0c0c0"/><rect x="130" y="740" width="1" height="31" fill="#c0c0c0"/><rect x="138" y="739" width="1" height="32" fill="#c0c0c0"/><rect x="146" y="744" width="1" height="27" fill="#c0c0c0"/><rect x="154" y="744" width="1" height="27" fill="#c0c0c0"/><rect x="162" y="748" width="1" height="23" fill="#c0c0c0"/><rect x="170" y="753" width="1" height="18" fill="#c0c0c0"/><rect x="178" y="757" width="1" height="14" fill="#c0c0c0"/><rect x="186" y="758" width="1" height="13" fill="#c0c0c0"/><rect x="194" y="756" width="1" height="15" fill="#c0c0c0"/><rect x="202" y="752" width="1" height="19" fill="#c0c0c0"/><rect x="210" y="750" width="1" height="21" fill="#c0c0c0"/><rect x="218" y="745" width="1" height="26" fill="#c0c0c0"/><rect x="226" y="741" width="1" height="30" fill="#c0c0c0"/><rect x="234" y="738" width="1" height="33" fill="#c0c0c0"/><rect x="242" y="737" width="1" height="34" fill="#c0c0c0"/><rect x="250" y="739" width="1" height="32" fill="#c0c0c0"/><rect x="258" y="746" width="1" height="25" fill="#c0c0c0"/><rect x="266" y="748" width="1" height="23" fill="#c0c0c0"/><rect x="274" y="749" width="1" height="22" fill="#c0c0c0"/><rect x="282" y="746" width="1" height="25" fill="#c0c0c0"/><rect x="290" y="745" width="1" height="26" fill="#c0c0c0"/><rect x="298" y="747" width="1" height="24" fill="#c0c0c0"/><rect x="306" y="752" width="1" height="19" fill="#c0c0c0"/><rect x="314" y="754" width="1" height="17" fill="#c0c0c0"/><rect x="322" y="760" width="1" height="11" fill="#c0c0c0"/><rect x="330" y="764" width="1" height="7" fill="#c0c0c0"/><rect x="338" y="764" width="1" height="7" fill="#c0c0c0"/><rect x="346" y="762" width="1" height="9" fill="#c0c0c0"/><rect x="354" y="757" width="1" height="14" fill="#c0c0c0"/><rect x="362" y="754" width="1" height="17" fill="#c0c0c0"/><rect x="370" y="754" width="1" height="17" fill="#c0c0c0"/><rect x="378" y="758" width="1" height="13" fill="#c0c0c0"/><rect x="386" y="762" width="1" height="9" fill="#c0c0c0"/><rect x="402" y="772" width="1" height="9" fill="#c0c0c0"/><rect x="410" y="772" width="1" height="12" fill="#c0c0c0"/><rect x="418" y="772" width="1" height="14" fill="#c0c0c0"/><rect x="426" y="772" width="1" height="15" fill="#c0c0c0"/><rect x="434" y="772" width="1" height="13" fill="#c0c0c0"/><rect x="442" y="772" width="1" height="10" fill="#c0c0c0"/><rect x="450" y="772" width="1" height="7" fill="#c0c0c0"/><rect x="458" y="772" width="1" height="6" fill="#c0c0c0"/><rect x="466" y="772" width="1" height="3" fill="#c0c0c0"/><rect x="482" y="772" width="1" height="1" fill="#c0c0c0"/><rect x="490" y="772" width="1" height="2" fill="#c0c0c0"/><rect x="498" y="772" width="1" height="3" fill="#c0c0c0"/><rect x="506" y="772" width="1" height="8" fill="#c0c0c0"/><rect x="514" y="772" width="1" height="13" fill="#c0c0c0"/><rect x="522" y="772" width="1" height="18" fill="#c0c0c0"/><rect x="530" y="772" width="1" height="16" fill="#c0c0c0"/><rect x="538" y="772" width="1" height="14" fill="#c0c0c0"/><rect x="546" y="772" width="1" height="12" fill="#c0c0c0"/><rect x="554" y="772" width="1" height="9" fill="#c0c0c0"/><rect x="562" y="772" width="1" height="4" fill="#c0c0c0"/><rect x="578" y="767" width="1" height="4" fill="#c0c0c0"/><rect x="586" y="767" width="1" height="4" fill="#c0c0c0"/><rect x="594" y="764" width="1" height="7" fill="#c0c0c0"/><rect x="602" y="764" width="1" height="7" fill="#c0c0c0"/><rect x="610" y="761" width="1" height="10" fill="#c0c0c0"/><rect x="618" y="756" width="1" height="15" fill="#c0c0c0"/><rect x="626" y="752" width="1" height="19" fill="#c0c0c0"/><rect x="634" y="747" width="1" height="24" fill="#c0c0c0"/><rect x="642" y="739" width="1" height="32" fill="#c0c0c0"/><rect x="650" y="735" width="1" height="36" fill="#c0c0c0"/><rect x="658" y="729" width="1" height="42" fill="#c0c0c0"/><rect x="666" y="724" width="1" height="47" fill="#c0c0c0"/><rect x="674" y="724" width="1" height="47" fill="#c0c0c0"/><rect x="682" y="728" width="1" height="43" fill="#c0c0c0"/><rect x="690" y="733" width="1" height="38" fill="#c0c0c0"/><rect x="698" y="737" width="1" height="34" fill="#c0c0c0"/><rect x="706" y="741" width="1" height="30" fill="#c0c0c0"/><rect x="714" y="745" width="1" height="26" fill="#c0c0c0"/><rect x="722" y="753" width="1" height="18" fill="#c0c0c0"/><rect x="730" y="758" width="1" height="13" fill="#c0c0c0"/><rect x="738" y="760" width="1" height="11" fill="#c0c0c0"/><rect x="746" y="759" width="1" height="12" fill="#c0c0c0"/><rect x="754" y="757" width="1" height="14" fill="#c0c0c0"/><rect x="762" y="758" width="1" height="13" fill="#c0c0c0"/><rect x="770" y="759" width="1" height="12" fill="#c0c0c0"/><rect x="778" y="758" width="1" height="13" fill="#c0c0c0"/><rect x="786" y="760" width="1" height="11" fill="#c0c0c0"/><rect x="794" y="762" width="1" height="9" fill="#c0c0c0"/><rect x="802" y="766" width="1" height="5" fill="#c0c0c0"/><rect x="810" y="772" width="1" height="5" fill="#c0c0c0"/><rect x="818" y="772" width="1" height="9" fill="#c0c0c0"/><rect x="826" y="772" width="1" height="15" fill="#c0c0c0"/><rect x="834" y="772" width="1" height="17" fill="#c0c0c0"/><rect x="842" y="772" width="1" height="21" fill="#c0c0c0"/><rect x="850" y="772" width="1" height="23" fill="#c0c0c0"/><rect x="858" y="772" width="1" height="23" fill="#c0c0c0"/><rect x="866" y="772" width="1" height="25" fill="#c0c0c0"/><rect x="874" y="772" width="1" height="26" fill="#c0c0c0"/><rect x="882" y="772" width="1" height="24" fill="#c0c0c0"/><rect x="890" y="772" width="1" height="23" fill="#c0c0c0"/><rect x="898" y="772" width="1" height="17" fill="#c0c0c0"/><rect x="906" y="772" width="1" height="10" fill="#c0c0c0"/><rect x="914" y="772" width="1" height="6" fill="#c0c0c0"/><rect x="922" y="772" width="1" height="4" fill="#c0c0c0"/><rect x="930" y="772" width="1" height="3" fill="#c0c0c0"/><rect x="938" y="772" width="1" height="3" fill="#c0c0c0"/><rect x="946" y="772" width="1" height="7" fill="#c0c0c0"/><rect x="954" y="772" width="1" height="9" fill="#c0c0c0"/><rect x="962" y="772" width="1" height="13" fill="#c0c0c0"/><rect x="970" y="772" width="1" height="14" fill="#c0c0c0"/><rect x="978" y="772" width="1" height="11" fill="#c0c0c0"/><rect x="986" y="772" width="1" height="10" fill="#c0c0c0"/><rect x="994" y="772" width="1" height="7" fill="#c0c0c0"/><rect x="1002" y="772" width="1" height="6" fill="#c0c0c0"/><rect x="1010" y="772" width="1" height="5" fill="#c0c0c0"/><rect x="1018" y="772" width="1" height="7" fill="#c0c0c0"/><rect x="1026" y="772" width="1" height="8" fill="#c0c0c0"/><rect x="1034" y="772" width="1" height="11" fill="#c0c0c0"/><rect x="1042" y="772" width="1" height="16" fill="#c0c0c0"/><rect x="1050" y="772" width="1" height="19" fill="#c0c0c0"/><rect x="1058" y="772" width="1" height="21" fill="#c0c0c0"/><rect x="1066" y="772" width="1" height="21" fill="#c0c0c0"/><rect x="1074" y="772" width="1" height="17" fill="#c0c0c0"/><rect x="1082" y="772" width="1" height="12" fill="#c0c0c0"/><rect x="1090" y="772" width="1" height="6" fill="#c0c0c0"/><rect x="1098" y="772" width="1" height="2" fill="#c0c0c0"/><rect x="1106" y="770" width="1" height="1" fill="#c0c0c0"/><rect x="1114" y="762" width="1" height="9" fill="#c0c0c0"/><rect x="1122" y="756" width="1" height="15" fill="#c0c0c0"/><rect x="1130" y="749" width="1" height="22" fill="#c0c0c0"/><rect x="1138" y="745" width="1" height="26" fill="#c0c0c0"/><rect x="1146" y="740" width="1" height="31" fill="#c0c0c0"/><rect x="1154" y="734" width="1" height="37" fill="#c0c0c0"/><rect x="1162" y="730" width="1" height="41" fill="#c0c0c0"/><rect x="1170" y="729" width="1" height="42" fill="#c0c0c0"/><rect x="1178" y="730" width="1" height="41" fill="#c0c0c0"/><rect x="1186" y="732" width="1" height="39" fill="#c0c0c0"/><rect x="1194" y="736" width="1" height="35" fill="#c0c0c0"/><rect x="1202" y="739" width="1" height="32" fill="#c0c0c0"/><rect x="1210" y="742" width="1" height="29" fill="#c0c0c0"/><rect x="1218" y="740" width="1" height="31" fill="#c0c0c0"/><rect x="1226" y="736" width="1" height="35" fill="#c0c0c0"/><rect x="1234" y="732" width="1" height="39" fill="#c0c0c0"/><rect x="1242" y="728" width="1" height="43" fill="#c0c0c0"/><rect x="1250" y="728" width="1" height="43" fill="#c0c0c0"/><rect x="1258" y="729" width="1" height="42" fill="#c0c0c0"/><rect x="1266" y="731" width="1" height="40" fill="#c0c0c0"/><rect x="1274" y="732" width="1" height="39" fill="#c0c0c0"/><rect x="1282" y="731" width="1" height="40" fill="#c0c0c0"/><rect x="1290" y="729" width="1" height="42" fill="#c0c0c0"/><rect x="1298" y="729" width="1" height="42" fill="#c0c0c0"/><rect x="1306" y="731" width="1" height="40" fill="#c0c0c0"/><rect x="1314" y="735" width="1" height="36" fill="#c0c0c0"/><polyline points="2.5,739.5 10.5,739.5 18.5,740.2 26.5,741.4 34.5,741.6 42.5,742.5 50.5,743.2 58.5,743.4 66.5,744.2 74.5,743.9 82.5,744.0 90.5,744.3 98.5,744.1 106.5,743.3 114.5,742.4 122.5,741.0 130.5,740.4 138.5,739.6 146.5,739.6 154.5,739.9 162.5,740.6 170.5,742.2 178.5,744.4 186.5,746.6 194.5,748.7 202.5,750.1 210.5,751.3 218.5,751.5 226.5,751.1 234.5,750.0 242.5,748.2 250.5,746.1 258.5,744.8 266.5,743.9 274.5,743.6 282.5,743.1 290.5,743.1 298.5,743.8 306.5,745.4 314.5,747.3 322.5,749.7 330.5,751.7 338.5,753.6 346.5,755.0 354.5,756.2 362.5,757.2 370.5,757.9 378.5,758.5 386.5,759.4 394.5,760.7 402.5,762.7 410.5,764.8 418.5,767.4 426.5,770.8 434.5,774.3 442.5,777.5 450.5,779.9 458.5,781.7 466.5,782.0 474.5,780.9 482.5,779.7 490.5,778.4 498.5,777.0 506.5,776.4 514.5,776.8 522.5,778.0 530.5,779.1 538.5,780.3 546.5,781.7 554.5,782.6 562.5,782.9 570.5,782.5 578.5,781.1 586.5,779.0 594.5,776.1 602.5,773.5 610.5,770.7 618.5,767.6 626.5,764.4 634.5,761.2 642.5,757.5 650.5,753.9 658.5,749.8 666.5,745.4 674.5,740.9 682.5,737.2 690.5,734.6 698.5,732.9 706.5,732.2 714.5,732.8 722.5,734.9 730.5,738.1 738.5,742.1 746.5,745.9 754.5,749.3 762.5,752.0 770.5,754.4 778.5,756.4 786.5,758.1 794.5,759.1 802.5,760.0 810.5,761.8 818.5,764.3 826.5,767.6 834.5,771.1 842.5,774.9 850.5,779.1 858.5,782.9 866.5,786.8 874.5,790.3 882.5,792.5 890.5,794.0 898.5,794.2 906.5,793.4 914.5,791.7 922.5,789.5 930.5,787.3 938.5,784.9 946.5,782.9 954.5,781.2 962.5,780.1 970.5,779.8 978.5,779.9 986.5,780.3 994.5,780.7 1002.5,781.0 1010.5,781.2 1018.5,781.2 1026.5,781.0 1034.5,780.8 1042.5,781.0 1050.5,781.9 1058.5,783.1 1066.5,784.7 1074.5,785.8 1082.5,786.6 1090.5,786.5 1098.5,785.9 1106.5,784.4 1114.5,781.5 1122.5,777.6 1130.5,772.7 1138.5,767.4 1146.5,762.0 1154.5,756.5 1162.5,751.2 1170.5,746.2 1178.5,741.8 1186.5,738.4 1194.5,736.1 1202.5,735.0 1210.5,734.7 1218.5,734.8 1226.5,735.0 1234.5,735.1 1242.5,735.0 1250.5,734.8 1258.5,734.5 1266.5,733.9 1274.5,733.2 1282.5,731.9 1290.5,730.6 1298.5,729.9 1306.5,729.9 1314.5,730.6" fill="none" stroke="#ff0000" stroke-width="1" stroke-linejoin="round" stroke-dasharray="3 3"/></g><g clip-path="url(#c2)"><line x1="2" y1="832.5" x2="1639" y2="832.5" stroke="#c0c0c0" stroke-dasharray="3 3"/><line x1="2" y1="866.5" x2="1639" y2="866.5" stroke="#c0c0c0" stroke-dasharray="3 3"/><polyline points="2.5,848.4 10.5,840.9 18.5,842.3 26.5,847.9 34.5,849.9 42.5,848.1 50.5,849.6 58.5,842.6 66.5,846.8 74.5,843.9 82.5,842.6 90.5,844.5 98.5,842.1 106.5,841.5 114.5,844.7 122.5,841.3 130.5,848.1 138.5,843.9 146.5,849.8 154.5,846.4 162.5,849.5 170.5,852.8 178.5,851.5 186.5,848.3 194.5,845.9 202.5,842.8 210.5,845.0 218.5,840.4 226.5,840.2 234.5,840.0 242.5,841.9 250.5,845.6 258.5,852.5 266.5,848.0 274.5,847.5 282.5,842.2 290.5,844.0 298.5,847.8 306.5,851.4 314.5,849.7 322.5,854.1 330.5,852.4 338.5,849.7 346.5,846.3 354.5,841.7 362.5,843.2 370.5,846.7 378.5,851.8 386.5,853.1 394.5,860.1 402.5,860.8 410.5,855.1 418.5,855.4 426.5,854.7 434.5,850.9 442.5,848.5 450.5,849.2 458.5,849.9 466.5,847.7 474.5,845.6 482.5,852.8 490.5,851.4 498.5,853.1 506.5,857.6 514.5,859.6 522.5,861.0 530.5,851.2 538.5,851.9 546.5,850.2 554.5,848.7 562.5,845.4 570.5,844.8 578.5,843.0 586.5,848.1 594.5,845.0 602.5,849.0 610.5,844.5 618.5,840.3 626.5,841.5 634.5,838.5 642.5,834.7 650.5,836.1 658.5,834.4 666.5,833.1 674.5,839.0 682.5,845.3 690.5,848.3 698.5,847.2 706.5,847.2 714.5,849.6 722.5,855.3 730.5,854.6 738.5,849.8 746.5,845.1 754.5,845.3 762.5,847.9 770.5,847.8 778.5,845.3 786.5,850.8 794.5,849.9 802.5,854.5 810.5,863.6 818.5,857.1 826.5,859.9 834.5,856.2 842.5,858.9 850.5,857.6 858.5,854.9 866.5,857.6 874.5,857.7 882.5,854.0 890.5,853.9 898.5,847.7 906.5,844.4 914.5,846.1 922.5,848.9 930.5,850.3 938.5,851.1 946.5,857.6 954.5,854.9 962.5,858.1 970.5,856.2 978.5,849.5 986.5,850.7 994.5,848.8 1002.5,850.6 1010.5,849.6 1018.5,855.6 1026.5,853.2 1034.5,857.2 1042.5,861.4 1050.5,859.0 1058.5,857.6 1066.5,856.4 1074.5,848.8 1082.5,846.6 1090.5,844.8 1098.5,845.4 1106.5,843.2 1114.5,838.1 1122.5,837.3 1130.5,834.3 1138.5,837.3 1146.5,835.5 1154.5,832.3 1162.5,834.7 1170.5,837.7 1178.5,839.6 1186.5,841.3 1194.5,846.7 1202.5,845.5 1210.5,846.4 1218.5,839.4 1226.5,834.7 1234.5,834.4 1242.5,833.4 1250.5,838.2 1258.5,838.0 1266.5,842.8 1274.5,839.9 1282.5,837.5 1290.5,834.9 1298.5,838.4 1306.5,842.7 1314.5,845.7" fill="none" stroke="#1e90ff" stroke-width="1" stroke-linejoin="round"/></g><g clip-path="url(#c3)"><line x1="2" y1="908.5" x2="1639" y2="908.5" stroke="#c0c0c0" stroke-dasharray="3 3"/><line x1="2" y1="951.5" x2="1639" y2="951.5" stroke="#c0c0c0" stroke-dasharray="3 3"/><polyline points="2.5,936.7 10.5,920.3 18.5,919.2 26.5,922.5 34.5,939.3 42.5,949.2 50.5,952.4 58.5,936.8 66.5,928.8 74.5,908.9 82.5,913.2 90.5,914.1 98.5,916.4 106.5,915.6 114.5,918.9 122.5,918.6 130.5,933.3 138.5,923.9 146.5,937.5 154.5,931.9 162.5,941.1 170.5,945.7 178.5,943.0 186.5,932.7 194.5,915.0 202.5,904.8 210.5,902.5 218.5,902.1 226.5,902.0 234.5,898.2 242.5,903.2 250.5,915.7 258.5,940.3 266.5,947.0 274.5,943.0 282.5,921.0 290.5,911.9 298.5,911.2 306.5,930.6 314.5,943.1 322.5,950.1 330.5,943.9 338.5,938.3 346.5,922.4 354.5,905.2 362.5,901.6 370.5,910.9 378.5,930.9 386.5,947.6 394.5,959.8 402.5,962.6 410.5,957.7 418.5,949.6 426.5,937.3 434.5,923.0 442.5,912.3 450.5,905.7 458.5,910.9 466.5,912.1 474.5,910.9 482.5,924.9 490.5,938.5 498.5,954.3 506.5,957.6 514.5,961.2 522.5,962.1 530.5,948.2 538.5,932.1 546.5,911.8 554.5,905.2 562.5,900.0 570.5,900.3 578.5,900.5 586.5,909.8 594.5,911.6 602.5,922.6 610.5,920.7 618.5,915.0 626.5,911.1 634.5,907.0 642.5,905.8 650.5,903.0 658.5,900.7 666.5,900.8 674.5,908.5 682.5,928.0 690.5,950.7 698.5,959.5 706.5,956.5 714.5,954.8 722.5,955.9 730.5,955.2 738.5,945.1 746.5,928.0 754.5,913.3 762.5,909.5 770.5,914.8 778.5,918.4 786.5,930.7 794.5,936.6 802.5,949.6 810.5,954.9 818.5,954.3 826.5,951.8 834.5,942.4 842.5,941.5 850.5,935.3 858.5,926.5 866.5,918.7 874.5,919.5 882.5,920.6 890.5,917.3 898.5,906.1 906.5,903.2 914.5,907.0 922.5,917.2 930.5,932.0 938.5,943.2 946.5,955.1 954.5,950.5 962.5,951.6 970.5,945.3 978.5,933.7 986.5,918.3 994.5,902.6 1002.5,913.6 1010.5,921.0 1018.5,938.0 1026.5,942.2 1034.5,948.7 1042.5,950.8 1050.5,953.0 1058.5,948.5 1066.5,937.0 1074.5,919.8 1082.5,906.7 1090.5,899.1 1098.5,902.3 1106.5,903.6 1114.5,902.1 1122.5,900.9 1130.5,900.4 1138.5,905.3 1146.5,905.0 1154.5,906.0 1162.5,906.5 1170.5,914.3 1178.5,925.7 1186.5,937.8 1194.5,949.6 1202.5,954.0 1210.5,953.9 1218.5,934.2 1226.5,911.5 1234.5,898.5 1242.5,899.0 1250.5,905.4 1258.5,911.8 1266.5,928.1 1274.5,936.8 1282.5,931.4 1290.5,912.2 1298.5,912.6 1306.5,923.2 1314.5,939.0" fill="none" stroke="#20b2aa" stroke-width="1" stroke-linejoin="round"/><polyline points="2.5,932.3 10.5,929.4 18.5,927.5 26.5,920.7 34.5,928.3 42.5,937.8 50.5,946.6 58.5,945.5 66.5,939.3 74.5,924.8 82.5,917.0 90.5,912.1 98.5,914.6 106.5,915.4 114.5,917.0 122.5,917.7 130.5,923.6 138.5,925.3 146.5,931.6 154.5,931.1 162.5,936.8 170.5,939.6 178.5,943.3 186.5,940.5 194.5,930.2 202.5,917.5 210.5,907.4 218.5,903.1 226.5,902.2 234.5,900.8 242.5,901.1 250.5,905.7 258.5,919.7 266.5,934.3 274.5,943.4 282.5,937.0 290.5,925.3 298.5,914.7 306.5,917.9 314.5,928.3 322.5,941.3 330.5,945.7 338.5,944.1 346.5,934.8 354.5,921.9 362.5,909.7 370.5,905.9 378.5,914.5 386.5,929.8 394.5,946.1 402.5,956.7 410.5,960.0 418.5,956.6 426.5,948.2 434.5,936.6 442.5,924.2 450.5,913.7 458.5,909.6 466.5,909.6 474.5,911.3 482.5,916.0 490.5,924.8 498.5,939.3 506.5,950.2 514.5,957.7 522.5,960.3 530.5,957.2 538.5,947.5 546.5,930.7 554.5,916.4 562.5,905.7 570.5,901.8 578.5,900.3 586.5,903.6 594.5,907.3 602.5,914.7 610.5,918.3 618.5,919.4 626.5,915.6 634.5,911.0 642.5,908.0 650.5,905.3 658.5,903.2 666.5,901.5 674.5,903.3 682.5,912.4 690.5,929.1 698.5,946.1 706.5,955.6 714.5,956.9 722.5,955.7 730.5,955.3 738.5,952.0 746.5,942.7 754.5,928.8 762.5,916.9 770.5,912.5 778.5,914.2 786.5,921.3 794.5,928.6 802.5,939.0 810.5,947.0 818.5,952.9 826.5,953.7 834.5,949.5 842.5,945.3 850.5,939.7 858.5,934.4 866.5,926.8 874.5,921.5 882.5,919.6 890.5,919.1 898.5,914.7 906.5,908.9 914.5,905.4 922.5,909.1 930.5,918.7 938.5,930.8 946.5,943.4 954.5,949.6 962.5,952.4 970.5,949.1 978.5,943.5 986.5,932.4 994.5,918.2 1002.5,911.5 1010.5,912.4 1018.5,924.2 1026.5,933.7 1034.5,943.0 1042.5,947.3 1050.5,950.8 1058.5,950.8 1066.5,946.2 1074.5,935.1 1082.5,921.2 1090.5,908.5 1098.5,902.7 1106.5,901.7 1114.5,902.7 1122.5,902.2 1130.5,901.1 1138.5,902.2 1146.5,903.5 1154.5,905.4 1162.5,905.8 1170.5,908.9 1178.5,915.5 1186.5,925.9 1194.5,937.7 1202.5,947.1 1210.5,952.5 1218.5,947.4 1226.5,933.2 1234.5,914.7 1242.5,903.0 1250.5,900.9 1258.5,905.4 1266.5,915.1 1274.5,925.6 1282.5,932.1 1290.5,926.8 1298.5,918.7 1306.5,916.0 1314.5,924.9" fill="none" stroke="#ff0000" stroke-width="1" stroke-linejoin="round" stroke-dasharray="3 3"/></g><rect x="2" y="2" width="1638" height="1" fill="#000"/><rect x="2" y="714" width="1638" height="1" fill="#000"/><rect x="2" y="2" width="1" height="713" fill="#000"/><rect x="1639" y="2" width="1" height="713" fill="#000"/><rect x="2" y="716" width="1638" height="1" fill="#000"/><rect x="2" y="805" width="1638" height="1" fill="#000"/><rect x="2" y="716" width="1" height="90" fill="#000"/><rect x="1639" y="716" width="1" height="90" fill="#000"/><rect x="2" y="807" width="1638" height="1" fill="#000"/><rect x="2" y="892" width="1638" height="1" fill="#000"/><rect x="2" y="807" width="1" height="86" fill="#000"/><rect x="1639" y="807" width="1" height="86" fill="#000"/><rect x="2" y="894" width="1638" height="1" fill="#000"/><rect x="2" y="965" width="1638" height="1" fill="#000"/><rect x="2" y="894" width="1" height="72" fill="#000"/><rect x="1639" y="894" width="1" height="72" fill="#000"/><rect x="1640" y="32" width="4" height="1" fill="#000"/><text x="1645" y="36" font-size="10" fill="#000" stroke="#000" stroke-width="0.25" textLength="32.2" lengthAdjust="spacingAndGlyphs">0.67575</text><rect x="1640" y="64" width="4" height="1" fill="#000"/><text x="1645" y="68" font-size="10" fill="#000" stroke="#000" stroke-width="0.25" textLength="32.2" lengthAdjust="spacingAndGlyphs">0.67390</text><rect x="1640" y="96" width="4" height="1" fill="#000"/><text x="1645" y="100" font-size="10" fill="#000" stroke="#000" stroke-width="0.25" textLength="32.2" lengthAdjust="spacingAndGlyphs">0.67205</text><rect x="1640" y="129" width="4" height="1" fill="#000"/><text x="1645" y="133" font-size="10" fill="#000" stroke="#000" stroke-width="0.25" textLength="32.2" lengthAdjust="spacingAndGlyphs">0.67020</text><rect x="1640" y="161" width="4" height="1" fill="#000"/><text x="1645" y="165" font-size="10" fill="#000" stroke="#000" stroke-width="0.25" textLength="32.2" lengthAdjust="spacingAndGlyphs">0.66835</text><rect x="1640" y="194" width="4" height="1" fill="#000"/><text x="1645" y="198" font-size="10" fill="#000" stroke="#000" stroke-width="0.25" textLength="32.2" lengthAdjust="spacingAndGlyphs">0.66650</text><rect x="1640" y="226" width="4" height="1" fill="#000"/><text x="1645" y="230" font-size="10" fill="#000" stroke="#000" stroke-width="0.25" textLength="32.2" lengthAdjust="spacingAndGlyphs">0.66465</text><rect x="1640" y="259" width="4" height="1" fill="#000"/><text x="1645" y="263" font-size="10" fill="#000" stroke="#000" stroke-width="0.25" textLength="32.2" lengthAdjust="spacingAndGlyphs">0.66280</text><rect x="1640" y="291" width="4" height="1" fill="#000"/><text x="1645" y="295" font-size="10" fill="#000" stroke="#000" stroke-width="0.25" textLength="32.2" lengthAdjust="spacingAndGlyphs">0.66095</text><rect x="1640" y="324" width="4" height="1" fill="#000"/><text x="1645" y="328" font-size="10" fill="#000" stroke="#000" stroke-width="0.25" textLength="32.2" lengthAdjust="spacingAndGlyphs">0.65910</text><rect x="1640" y="356" width="4" height="1" fill="#000"/><text x="1645" y="360" font-size="10" fill="#000" stroke="#000" stroke-width="0.25" textLength="32.2" lengthAdjust="spacingAndGlyphs">0.65725</text><rect x="1640" y="389" width="4" height="1" fill="#000"/><text x="1645" y="393" font-size="10" fill="#000" stroke="#000" stroke-width="0.25" textLength="32.2" lengthAdjust="spacingAndGlyphs">0.65540</text><rect x="1640" y="421" width="4" height="1" fill="#000"/><text x="1645" y="425" font-size="10" fill="#000" stroke="#000" stroke-width="0.25" textLength="32.2" lengthAdjust="spacingAndGlyphs">0.65355</text><rect x="1640" y="454" width="4" height="1" fill="#000"/><text x="1645" y="458" font-size="10" fill="#000" stroke="#000" stroke-width="0.25" textLength="32.2" lengthAdjust="spacingAndGlyphs">0.65170</text><rect x="1640" y="486" width="4" height="1" fill="#000"/><text x="1645" y="490" font-size="10" fill="#000" stroke="#000" stroke-width="0.25" textLength="32.2" lengthAdjust="spacingAndGlyphs">0.64985</text><rect x="1640" y="519" width="4" height="1" fill="#000"/><text x="1645" y="523" font-size="10" fill="#000" stroke="#000" stroke-width="0.25" textLength="32.2" lengthAdjust="spacingAndGlyphs">0.64800</text><rect x="1640" y="551" width="4" height="1" fill="#000"/><text x="1645" y="555" font-size="10" fill="#000" stroke="#000" stroke-width="0.25" textLength="32.2" lengthAdjust="spacingAndGlyphs">0.64615</text><rect x="1640" y="584" width="4" height="1" fill="#000"/><text x="1645" y="588" font-size="10" fill="#000" stroke="#000" stroke-width="0.25" textLength="32.2" lengthAdjust="spacingAndGlyphs">0.64430</text><rect x="1640" y="616" width="4" height="1" fill="#000"/><text x="1645" y="620" font-size="10" fill="#000" stroke="#000" stroke-width="0.25" textLength="32.2" lengthAdjust="spacingAndGlyphs">0.64245</text><rect x="1640" y="649" width="4" height="1" fill="#000"/><text x="1645" y="653" font-size="10" fill="#000" stroke="#000" stroke-width="0.25" textLength="32.2" lengthAdjust="spacingAndGlyphs">0.64060</text><rect x="1640" y="681" width="4" height="1" fill="#000"/><text x="1645" y="685" font-size="10" fill="#000" stroke="#000" stroke-width="0.25" textLength="32.2" lengthAdjust="spacingAndGlyphs">0.63875</text><rect x="1642" y="157" width="39" height="11" fill="#778899"/><text x="1645" y="166" font-size="10" fill="#fff" stroke="#fff" stroke-width="0.25" textLength="32.2" lengthAdjust="spacingAndGlyphs">0.66832</text><rect x="1642" y="13" width="39" height="11" fill="#1e90ff"/><text x="1645" y="22" font-size="10" fill="#fff" stroke="#fff" stroke-width="0.25" textLength="32.2" lengthAdjust="spacingAndGlyphs">0.67649</text><rect x="1642" y="164" width="39" height="11" fill="#1e90ff"/><text x="1645" y="173" font-size="10" fill="#fff" stroke="#fff" stroke-width="0.25" textLength="32.2" lengthAdjust="spacingAndGlyphs">0.66790</text><rect x="1642" y="298" width="39" height="11" fill="#1e90ff"/><text x="1645" y="307" font-size="10" fill="#fff" stroke="#fff" stroke-width="0.25" textLength="32.2" lengthAdjust="spacingAndGlyphs">0.66028</text><rect x="1642" y="576" width="39" height="11" fill="#1e90ff"/><text x="1645" y="585" font-size="10" fill="#fff" stroke="#fff" stroke-width="0.25" textLength="32.2" lengthAdjust="spacingAndGlyphs">0.64447</text><rect x="1642" y="696" width="39" height="11" fill="#1e90ff"/><text x="1645" y="705" font-size="10" fill="#fff" stroke="#fff" stroke-width="0.25" textLength="32.2" lengthAdjust="spacingAndGlyphs">0.63764</text><rect x="1640" y="716" width="4" height="1" fill="#000"/><rect x="1640" y="805" width="4" height="1" fill="#000"/><text x="1645" y="725" font-size="10" fill="#000" stroke="#000" stroke-width="0.25" textLength="37.1" lengthAdjust="spacingAndGlyphs">0.004963</text><text x="1645" y="774" font-size="10" fill="#000" stroke="#000" stroke-width="0.25" textLength="37.1" lengthAdjust="spacingAndGlyphs">0.000000</text><text x="1644" y="803" font-size="10" fill="#000" stroke="#000" stroke-width="0.25" textLength="40.1" lengthAdjust="spacingAndGlyphs">-0.003042</text><rect x="1640" y="807" width="4" height="1" fill="#000"/><rect x="1640" y="832" width="4" height="1" fill="#000"/><rect x="1640" y="866" width="4" height="1" fill="#000"/><rect x="1640" y="892" width="4" height="1" fill="#000"/><text x="1645" y="816" font-size="10" fill="#000" stroke="#000" stroke-width="0.25" textLength="27.2" lengthAdjust="spacingAndGlyphs">100.00</text><text x="1645" y="836" font-size="10" fill="#000" stroke="#000" stroke-width="0.25" textLength="22.3" lengthAdjust="spacingAndGlyphs">70.00</text><text x="1645" y="870" font-size="10" fill="#000" stroke="#000" stroke-width="0.25" textLength="22.3" lengthAdjust="spacingAndGlyphs">30.00</text><text x="1645" y="890" font-size="10" fill="#000" stroke="#000" stroke-width="0.25" textLength="17.3" lengthAdjust="spacingAndGlyphs">0.00</text><rect x="1640" y="894" width="4" height="1" fill="#000"/><rect x="1640" y="908" width="4" height="1" fill="#000"/><rect x="1640" y="951" width="4" height="1" fill="#000"/><rect x="1640" y="965" width="4" height="1" fill="#000"/><text x="1645" y="903" font-size="10" fill="#000" stroke="#000" stroke-width="0.25" textLength="27.2" lengthAdjust="spacingAndGlyphs">100.00</text><text x="1645" y="912" font-size="10" fill="#000" stroke="#000" stroke-width="0.25" textLength="22.3" lengthAdjust="spacingAndGlyphs">80.00</text><text x="1645" y="955" font-size="10" fill="#000" stroke="#000" stroke-width="0.25" textLength="22.3" lengthAdjust="spacingAndGlyphs">20.00</text><text x="1645" y="963" font-size="10" fill="#000" stroke="#000" stroke-width="0.25" textLength="17.3" lengthAdjust="spacingAndGlyphs">0.00</text><rect x="2" y="966" width="1" height="3" fill="#000"/><text x="2" y="978" font-size="10" fill="#000" stroke="#000" stroke-width="0.25" textLength="53.8" lengthAdjust="spacingAndGlyphs">22 May 2025</text><rect x="66" y="966" width="1" height="3" fill="#000"/><text x="66" y="978" font-size="10" fill="#000" stroke="#000" stroke-width="0.25" textLength="46.0" lengthAdjust="spacingAndGlyphs">3 Jun 2025</text><rect x="130" y="966" width="1" height="3" fill="#000"/><text x="130" y="978" font-size="10" fill="#000" stroke="#000" stroke-width="0.25" textLength="51.2" lengthAdjust="spacingAndGlyphs">13 Jun 2025</text><rect x="194" y="966" width="1" height="3" fill="#000"/><text x="194" y="978" font-size="10" fill="#000" stroke="#000" stroke-width="0.25" textLength="51.2" lengthAdjust="spacingAndGlyphs">25 Jun 2025</text><rect x="258" y="966" width="1" height="3" fill="#000"/><text x="258" y="978" font-size="10" fill="#000" stroke="#000" stroke-width="0.25" textLength="42.9" lengthAdjust="spacingAndGlyphs">7 Jul 2025</text><rect x="322" y="966" width="1" height="3" fill="#000"/><text x="322" y="978" font-size="10" fill="#000" stroke="#000" stroke-width="0.25" textLength="48.1" lengthAdjust="spacingAndGlyphs">17 Jul 2025</text><rect x="386" y="966" width="1" height="3" fill="#000"/><text x="386" y="978" font-size="10" fill="#000" stroke="#000" stroke-width="0.25" textLength="48.1" lengthAdjust="spacingAndGlyphs">29 Jul 2025</text><rect x="450" y="966" width="1" height="3" fill="#000"/><text x="450" y="978" font-size="10" fill="#000" stroke="#000" stroke-width="0.25" textLength="47.1" lengthAdjust="spacingAndGlyphs">8 Aug 2025</text><rect x="514" y="966" width="1" height="3" fill="#000"/><text x="514" y="978" font-size="10" fill="#000" stroke="#000" stroke-width="0.25" textLength="52.2" lengthAdjust="spacingAndGlyphs">20 Aug 2025</text><rect x="578" y="966" width="1" height="3" fill="#000"/><text x="578" y="978" font-size="10" fill="#000" stroke="#000" stroke-width="0.25" textLength="47.6" lengthAdjust="spacingAndGlyphs">1 Sep 2025</text><rect x="642" y="966" width="1" height="3" fill="#000"/><text x="642" y="978" font-size="10" fill="#000" stroke="#000" stroke-width="0.25" textLength="52.1" lengthAdjust="spacingAndGlyphs">11 Sep 2025</text><rect x="706" y="966" width="1" height="3" fill="#000"/><text x="706" y="978" font-size="10" fill="#000" stroke="#000" stroke-width="0.25" textLength="52.7" lengthAdjust="spacingAndGlyphs">23 Sep 2025</text><rect x="770" y="966" width="1" height="3" fill="#000"/><text x="770" y="978" font-size="10" fill="#000" stroke="#000" stroke-width="0.25" textLength="45.5" lengthAdjust="spacingAndGlyphs">3 Oct 2025</text><rect x="834" y="966" width="1" height="3" fill="#000"/><text x="834" y="978" font-size="10" fill="#000" stroke="#000" stroke-width="0.25" textLength="50.7" lengthAdjust="spacingAndGlyphs">15 Oct 2025</text><rect x="898" y="966" width="1" height="3" fill="#000"/><text x="898" y="978" font-size="10" fill="#000" stroke="#000" stroke-width="0.25" textLength="50.7" lengthAdjust="spacingAndGlyphs">27 Oct 2025</text><rect x="962" y="966" width="1" height="3" fill="#000"/><text x="962" y="978" font-size="10" fill="#000" stroke="#000" stroke-width="0.25" textLength="47.6" lengthAdjust="spacingAndGlyphs">6 Nov 2025</text><rect x="1026" y="966" width="1" height="3" fill="#000"/><text x="1026" y="978" font-size="10" fill="#000" stroke="#000" stroke-width="0.25" textLength="52.7" lengthAdjust="spacingAndGlyphs">18 Nov 2025</text><rect x="1090" y="966" width="1" height="3" fill="#000"/><text x="1090" y="978" font-size="10" fill="#000" stroke="#000" stroke-width="0.25" textLength="52.7" lengthAdjust="spacingAndGlyphs">28 Nov 2025</text><rect x="1154" y="966" width="1" height="3" fill="#000"/><text x="1154" y="978" font-size="10" fill="#000" stroke="#000" stroke-width="0.25" textLength="52.7" lengthAdjust="spacingAndGlyphs">10 Dec 2025</text><rect x="1218" y="966" width="1" height="3" fill="#000"/><text x="1218" y="978" font-size="10" fill="#000" stroke="#000" stroke-width="0.25" textLength="52.7" lengthAdjust="spacingAndGlyphs">22 Dec 2025</text><rect x="1282" y="966" width="1" height="3" fill="#000"/><text x="1282" y="978" font-size="10" fill="#000" stroke="#000" stroke-width="0.25" textLength="46.0" lengthAdjust="spacingAndGlyphs">5 Jan 2026</text><text x="7" y="13" font-size="10" fill="#000" stroke="#000" stroke-width="0.25" textLength="184.5" lengthAdjust="spacingAndGlyphs">AUDUSD.fx, Daily:  Australian vs US Dollar</text><text x="6" y="729" font-size="10" fill="#000" stroke="#000" stroke-width="0.25" textLength="148.0" lengthAdjust="spacingAndGlyphs">MACD(12,26,9) 0.003249 0.003663</text><text x="6" y="820" font-size="10" fill="#000" stroke="#000" stroke-width="0.25" textLength="57.0" lengthAdjust="spacingAndGlyphs">RSI(14) 55.46</text><text x="6" y="907" font-size="10" fill="#000" stroke="#000" stroke-width="0.25" textLength="100.9" lengthAdjust="spacingAndGlyphs">Stoch(5,3,3) 37.14 56.82</text></svg></body></html>
